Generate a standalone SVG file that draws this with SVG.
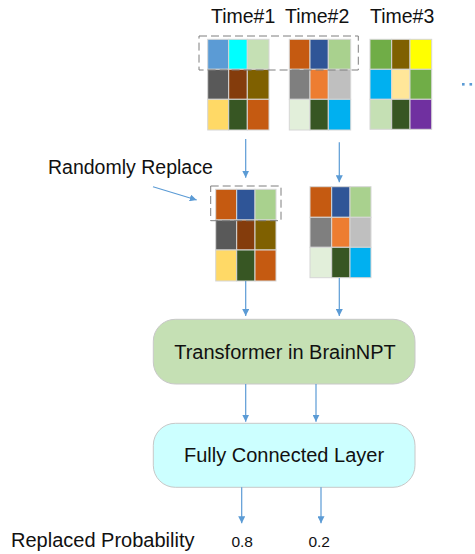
<svg xmlns="http://www.w3.org/2000/svg" width="475" height="554" viewBox="0 0 475 554">
<style>
  text { font-family: "Liberation Sans", Arial, sans-serif; fill: #111; }
  .lbl { font-size: 19.5px; }
  .box-t { font-size: 20px; text-anchor: middle; }
  .num { font-size: 15.5px; text-anchor: middle; }
  .cell { stroke: #d6d6d6; stroke-width: 1; }
  .dash { fill: none; stroke: #7f7f7f; stroke-width: 1; stroke-dasharray: 8 4; }
  .arr { stroke: #5b9bd5; stroke-width: 1.2; fill: none; marker-end: url(#ah); }
  .node { stroke: #c8c8c8; stroke-width: 1; }
</style>
<defs>
  <marker id="ah" viewBox="0 0 10 10" refX="10" refY="5" markerWidth="7" markerHeight="7" markerUnits="userSpaceOnUse" orient="auto">
    <path d="M0,0 L10,5 L0,10 z" fill="#5b9bd5"/>
  </marker>
</defs>

<g id="titles">
  <text class="lbl" x="211" y="23">Time#1</text>
  <text class="lbl" x="285" y="23">Time#2</text>
  <text class="lbl" x="370" y="23">Time#3</text>
</g>

<g id="grid-time1">
  <rect class="cell" x="207.7" y="39.3" width="21" height="30" fill="#5b9bd5"/>
  <rect class="cell" x="228.7" y="39.3" width="18.6" height="30" fill="#00ffff"/>
  <rect class="cell" x="247.3" y="39.3" width="21.7" height="30" fill="#c5e0b4"/>
  <rect class="cell" x="207.7" y="69.3" width="21" height="30" fill="#595959"/>
  <rect class="cell" x="228.7" y="69.3" width="18.6" height="30" fill="#843c0c"/>
  <rect class="cell" x="247.3" y="69.3" width="21.7" height="30" fill="#7f6000"/>
  <rect class="cell" x="207.7" y="99.3" width="21" height="30.7" fill="#ffd966"/>
  <rect class="cell" x="228.7" y="99.3" width="18.6" height="30.7" fill="#375623"/>
  <rect class="cell" x="247.3" y="99.3" width="21.7" height="30.7" fill="#c55a11"/>
</g>

<g id="grid-time2">
  <rect class="cell" x="289.3" y="39.3" width="20.7" height="30" fill="#c55a11"/>
  <rect class="cell" x="310" y="39.3" width="18.3" height="30" fill="#2f5597"/>
  <rect class="cell" x="328.3" y="39.3" width="22.4" height="30" fill="#a9d18e"/>
  <rect class="cell" x="289.3" y="69.3" width="20.7" height="30" fill="#7f7f7f"/>
  <rect class="cell" x="310" y="69.3" width="18.3" height="30" fill="#ed7d31"/>
  <rect class="cell" x="328.3" y="69.3" width="22.4" height="30" fill="#bfbfbf"/>
  <rect class="cell" x="289.3" y="99.3" width="20.7" height="30.7" fill="#e2efda"/>
  <rect class="cell" x="310" y="99.3" width="18.3" height="30.7" fill="#375623"/>
  <rect class="cell" x="328.3" y="99.3" width="22.4" height="30.7" fill="#00b0f0"/>
</g>

<g id="grid-time3">
  <rect class="cell" x="370" y="39.3" width="21.7" height="30" fill="#70ad47"/>
  <rect class="cell" x="391.7" y="39.3" width="18.3" height="30" fill="#7f6000"/>
  <rect class="cell" x="410" y="39.3" width="21.7" height="30" fill="#ffff00"/>
  <rect class="cell" x="370" y="69.3" width="21.7" height="30" fill="#00b0f0"/>
  <rect class="cell" x="391.7" y="69.3" width="18.3" height="30" fill="#ffe699"/>
  <rect class="cell" x="410" y="69.3" width="21.7" height="30" fill="#70ad47"/>
  <rect class="cell" x="370" y="99.3" width="21.7" height="30" fill="#c5e0b4"/>
  <rect class="cell" x="391.7" y="99.3" width="18.3" height="30" fill="#375623"/>
  <rect class="cell" x="410" y="99.3" width="21.7" height="30" fill="#7030a0"/>
</g>

<g id="more-dots">
  <rect x="462" y="83" width="2.6" height="2.6" fill="#5b9bd5"/>
  <rect x="469.5" y="83" width="2.6" height="2.6" fill="#5b9bd5"/>
</g>

<g id="dashed-top">
  <rect class="dash" x="199" y="36" width="159.3" height="34"/>
</g>

<g id="randomly-replace">
  <text class="lbl" x="48" y="174">Randomly Replace</text>
</g>

<g id="grid-replaced">
  <rect class="cell" x="215.7" y="189.3" width="21" height="30.7" fill="#c55a11"/>
  <rect class="cell" x="236.7" y="189.3" width="18.3" height="30.7" fill="#2f5597"/>
  <rect class="cell" x="255" y="189.3" width="21" height="30.7" fill="#a9d18e"/>
  <rect class="cell" x="215.7" y="220" width="21" height="30" fill="#595959"/>
  <rect class="cell" x="236.7" y="220" width="18.3" height="30" fill="#843c0c"/>
  <rect class="cell" x="255" y="220" width="21" height="30" fill="#7f6000"/>
  <rect class="cell" x="215.7" y="250" width="21" height="31" fill="#ffd966"/>
  <rect class="cell" x="236.7" y="250" width="18.3" height="31" fill="#375623"/>
  <rect class="cell" x="255" y="250" width="21" height="31" fill="#c55a11"/>
  <rect class="dash" x="210.7" y="186" width="70.3" height="34.7"/>
</g>

<g id="grid-time2-copy">
  <rect class="cell" x="310" y="186.7" width="21.7" height="30.6" fill="#c55a11"/>
  <rect class="cell" x="331.7" y="186.7" width="18.3" height="30.6" fill="#2f5597"/>
  <rect class="cell" x="350" y="186.7" width="21" height="30.6" fill="#a9d18e"/>
  <rect class="cell" x="310" y="217.3" width="21.7" height="30" fill="#7f7f7f"/>
  <rect class="cell" x="331.7" y="217.3" width="18.3" height="30" fill="#ed7d31"/>
  <rect class="cell" x="350" y="217.3" width="21" height="30" fill="#bfbfbf"/>
  <rect class="cell" x="310" y="247.3" width="21.7" height="30.4" fill="#e2efda"/>
  <rect class="cell" x="331.7" y="247.3" width="18.3" height="30.4" fill="#375623"/>
  <rect class="cell" x="350" y="247.3" width="21" height="30.4" fill="#00b0f0"/>
</g>

<g id="transformer">
  <rect class="node" x="153.3" y="319.3" width="261.7" height="64.7" rx="22" ry="22" fill="#c5e0b4"/>
  <text class="box-t" x="285" y="359">Transformer in BrainNPT</text>
</g>

<g id="fc-layer">
  <rect class="node" x="153.3" y="423.3" width="261.7" height="64" rx="22" ry="22" fill="#ccffff"/>
  <text class="box-t" x="284" y="462">Fully Connected Layer</text>
</g>

<g id="outputs">
  <text class="lbl" x="11" y="547" style="font-size:20px">Replaced Probability</text>
  <text class="num" x="242.2" y="547.3">0.8</text>
  <text class="num" x="319.2" y="547.3">0.2</text>
</g>

<g id="connectors">
  <line class="arr" x1="245.7" y1="139" x2="245.7" y2="177.7"/>
  <line class="arr" x1="339.3" y1="142.3" x2="339.3" y2="182.3"/>
  <line class="arr" x1="153" y1="186.7" x2="196.7" y2="200"/>
  <line class="arr" x1="245.7" y1="281" x2="245.7" y2="316"/>
  <line class="arr" x1="339.3" y1="278" x2="339.3" y2="316"/>
  <line class="arr" x1="245.7" y1="384" x2="245.7" y2="421.7"/>
  <line class="arr" x1="316" y1="384" x2="316" y2="421.7"/>
  <line class="arr" x1="241.7" y1="487.3" x2="241.7" y2="523.3"/>
  <line class="arr" x1="321" y1="487.3" x2="321" y2="523.3"/>
</g>
</svg>
